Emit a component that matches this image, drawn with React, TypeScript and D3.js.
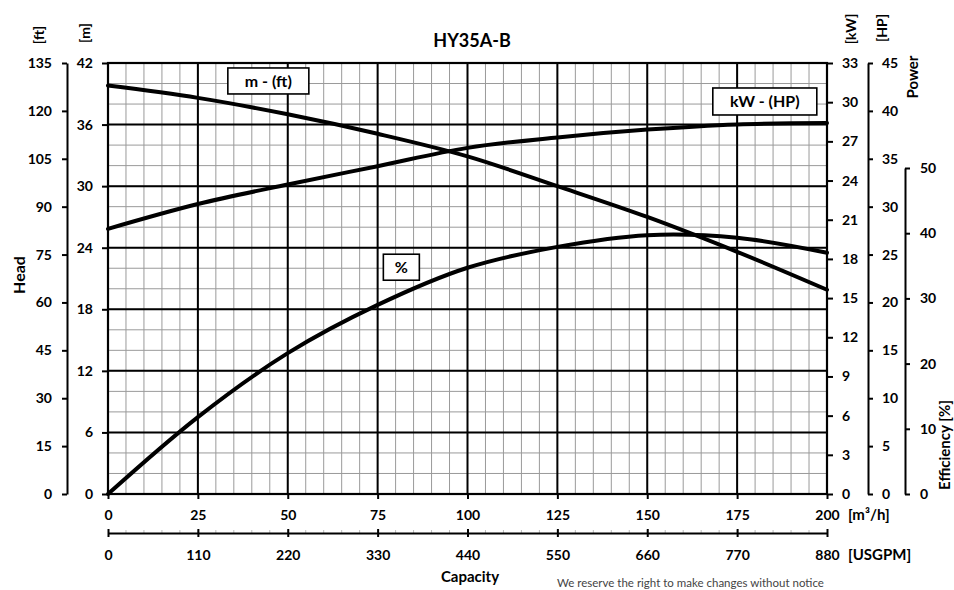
import React, { useEffect, useRef } from 'react';
import * as d3 from 'd3';

// curve readings, capacity in m3/h
const capacity = [0, 25, 50, 75, 100, 125, 150, 175, 200];
const headM = [39.8, 38.6, 37.0, 35.1, 32.9, 30.0, 27.0, 23.6, 19.9];
const powerKW = [20.3, 22.2, 23.7, 25.1, 26.5, 27.3, 27.9, 28.3, 28.4];
const efficiencyPct = [0, 11.8, 21.6, 29.0, 34.7, 37.9, 39.7, 39.3, 37.0];

// axis ticks
const capacityTicks = [0, 25, 50, 75, 100, 125, 150, 175, 200];
const usgpmTicks = [0, 110, 220, 330, 440, 550, 660, 770, 880];
const headMTicks = [0, 6, 12, 18, 24, 30, 36, 42];
const headFtTicks = [0, 15, 30, 45, 60, 75, 90, 105, 120, 135];
const powerKWTicks = [0, 3, 6, 9, 12, 15, 18, 21, 24, 27, 30, 33];
const powerHPTicks = [0, 5, 10, 15, 20, 25, 30, 35, 40, 45];
const effTicks = [0, 10, 20, 30, 40, 50];

// curve tags: [text, capacity, head m, box w, box h]
const curveTags: [string, number, number, number, number][] = [
  ['m - (ft)', 44.6, 40.25, 81, 26],
  ['kW - (HP)', 182.7, 38.25, 104, 27],
  ['%', 81.6, 22.1, 36, 26],
];

const FONT = "Lato, 'Open Sans', sans-serif";

const App = () => {
  const svgRef = useRef<SVGSVGElement>(null);

  useEffect(() => {
    if (!svgRef.current) return;
    const svg = d3.select(svgRef.current);
    svg.selectAll('*').remove();

    const left = 108, right = 827, top = 63, bottom = 494;

    const x = d3.scaleLinear().domain([0, 200]).range([left, right]);
    const xGpm = d3.scaleLinear().domain([0, 880]).range([left, right]);
    const yM = d3.scaleLinear().domain([0, 42]).range([bottom, top]);
    const yFt = d3.scaleLinear().domain([0, 135]).range([bottom, top]);
    const yKW = d3.scaleLinear().domain([0, 33]).range([bottom, top]);
    const yHP = d3.scaleLinear().domain([0, 45]).range([bottom, top]);
    const yEff = d3.scaleLinear().domain([0, 50]).range([bottom, 168]);

    svg.append('rect').attr('width', 954).attr('height', 590).attr('fill', '#fff');

    // minor grid
    const minor = svg.append('g').attr('stroke', '#9a9a9a').attr('stroke-width', 1);
    d3.range(5, 200, 5).forEach(q => {
      minor.append('line').attr('x1', x(q)).attr('x2', x(q)).attr('y1', top).attr('y2', bottom);
    });
    d3.range(2, 42, 2).forEach(m => {
      minor.append('line').attr('x1', left).attr('x2', right).attr('y1', yM(m)).attr('y2', yM(m));
    });

    // major grid
    const major = svg.append('g').attr('stroke', '#000').attr('stroke-width', 2);
    capacityTicks.slice(1, -1).forEach(q => {
      major.append('line').attr('x1', x(q)).attr('x2', x(q)).attr('y1', top).attr('y2', bottom);
    });
    headMTicks.slice(1, -1).forEach(m => {
      major.append('line').attr('x1', left).attr('x2', right).attr('y1', yM(m)).attr('y2', yM(m));
    });

    svg.append('rect')
      .attr('x', left).attr('y', top)
      .attr('width', right - left).attr('height', bottom - top)
      .attr('fill', 'none').attr('stroke', '#000').attr('stroke-width', 2.2);

    const styleAxis = (g: any, keepDomain: boolean) => {
      g.attr('font-family', FONT).attr('font-size', 14).attr('font-weight', 700);
      g.selectAll('text').attr('fill', '#000');
      g.selectAll('line').attr('stroke', '#000').attr('stroke-width', 2);
      if (keepDomain) g.select('.domain').attr('stroke', '#000').attr('stroke-width', 2);
      else g.select('.domain').remove();
    };

    // left axes
    svg.append('g').attr('transform', `translate(${left},0)`)
      .call(d3.axisLeft(yM).tickValues(headMTicks).tickSize(6).tickPadding(9).tickFormat(d3.format('d')))
      .call((g: any) => styleAxis(g, false));
    svg.append('g').attr('transform', 'translate(67,0)')
      .call(d3.axisLeft(yFt).tickValues(headFtTicks).tickSize(5).tickSizeOuter(0).tickPadding(10).tickFormat(d3.format('d')))
      .call((g: any) => styleAxis(g, true));

    // right axes
    svg.append('g').attr('transform', `translate(${right},0)`)
      .call(d3.axisRight(yKW).tickValues(powerKWTicks).tickSize(6).tickPadding(9).tickFormat(d3.format('d')))
      .call((g: any) => styleAxis(g, false));
    svg.append('g').attr('transform', 'translate(868,0)')
      .call(d3.axisRight(yHP).tickValues(powerHPTicks).tickSize(5).tickSizeOuter(0).tickPadding(9).tickFormat(d3.format('d')))
      .call((g: any) => styleAxis(g, true));
    svg.append('g').attr('transform', 'translate(905,0)')
      .call(d3.axisRight(yEff).tickValues(effTicks).tickSize(5).tickSizeOuter(0).tickPadding(10).tickFormat(d3.format('d')))
      .call((g: any) => styleAxis(g, true));

    // bottom axes
    svg.append('g').attr('transform', `translate(0,${bottom})`)
      .call(d3.axisBottom(x).tickValues(capacityTicks).tickSize(5).tickPadding(11).tickFormat(d3.format('d')))
      .call((g: any) => styleAxis(g, false));

    const gpmMinor = svg.append('g').attr('stroke', '#bbb').attr('stroke-width', 1);
    d3.range(5, 200, 5).forEach(q => {
      gpmMinor.append('line').attr('x1', x(q)).attr('x2', x(q)).attr('y1', 530).attr('y2', 533);
    });
    svg.append('g').attr('transform', 'translate(0,533)')
      .call(d3.axisBottom(xGpm).tickValues(usgpmTicks).tickSize(4).tickSizeOuter(0).tickPadding(13).tickFormat(d3.format('d')))
      .call((g: any) => {
        styleAxis(g, true);
        g.selectAll('.tick line').attr('y1', -4);
      });

    // curves
    const drawCurve = (vals: number[], y: d3.ScaleLinear<number, number>) => {
      const line = d3.line<number>()
        .x((_, i) => x(capacity[i]))
        .y(v => y(v))
        .curve(d3.curveCatmullRom.alpha(0.5));
      svg.append('path')
        .attr('d', line(vals))
        .attr('fill', 'none')
        .attr('stroke', '#000')
        .attr('stroke-width', 4)
        .attr('stroke-linecap', 'round');
    };
    drawCurve(headM, yM);
    drawCurve(powerKW, yKW);
    drawCurve(efficiencyPct, yEff);

    // tags
    curveTags.forEach(([label, q, m, w, h]) => {
      const cx = x(q), cy = yM(m);
      svg.append('rect')
        .attr('x', cx - w / 2).attr('y', cy - h / 2)
        .attr('width', w).attr('height', h)
        .attr('fill', '#fff').attr('stroke', '#000').attr('stroke-width', 1.6);
      svg.append('text')
        .attr('x', cx).attr('y', cy).attr('dy', '0.36em')
        .attr('text-anchor', 'middle')
        .attr('font-family', FONT).attr('font-size', 16).attr('font-weight', 700)
        .text(label);
    });

    const addText = (txt: string, tx: number, ty: number, size: number, rotate = false, anchor = 'middle', weight = 700, fill = '#000') => {
      svg.append('text')
        .attr('transform', rotate ? `translate(${tx},${ty}) rotate(-90)` : `translate(${tx},${ty})`)
        .attr('text-anchor', anchor)
        .attr('font-family', FONT).attr('font-size', size).attr('font-weight', weight)
        .attr('fill', fill)
        .text(txt);
    };

    addText('HY35A-B', 472, 47, 18);
    addText('Head', 25, 275, 16, true);
    addText('[ft]', 44, 35, 14, true);
    addText('[m]', 90, 33, 14, true);
    addText('[kW]', 856, 29, 14, true);
    addText('[HP]', 887, 28, 14, true);
    addText('Power', 918, 77, 15, true);
    addText('Efficiency [%]', 950, 445, 15, true);
    addText('[m³/h]', 848, 520, 15, false, 'start');
    addText('[USGPM]', 848, 560, 15, false, 'start');
    addText('Capacity', 470, 582, 15);
    addText('We reserve the right to make changes without notice', 557, 587, 11.5, false, 'start', 400, '#444');
  }, []);

  return (
    <svg
      ref={svgRef}
      width={954}
      height={590}
      style={{ position: 'absolute', left: 0, top: 0 }}
    />
  );
};

export default App;
